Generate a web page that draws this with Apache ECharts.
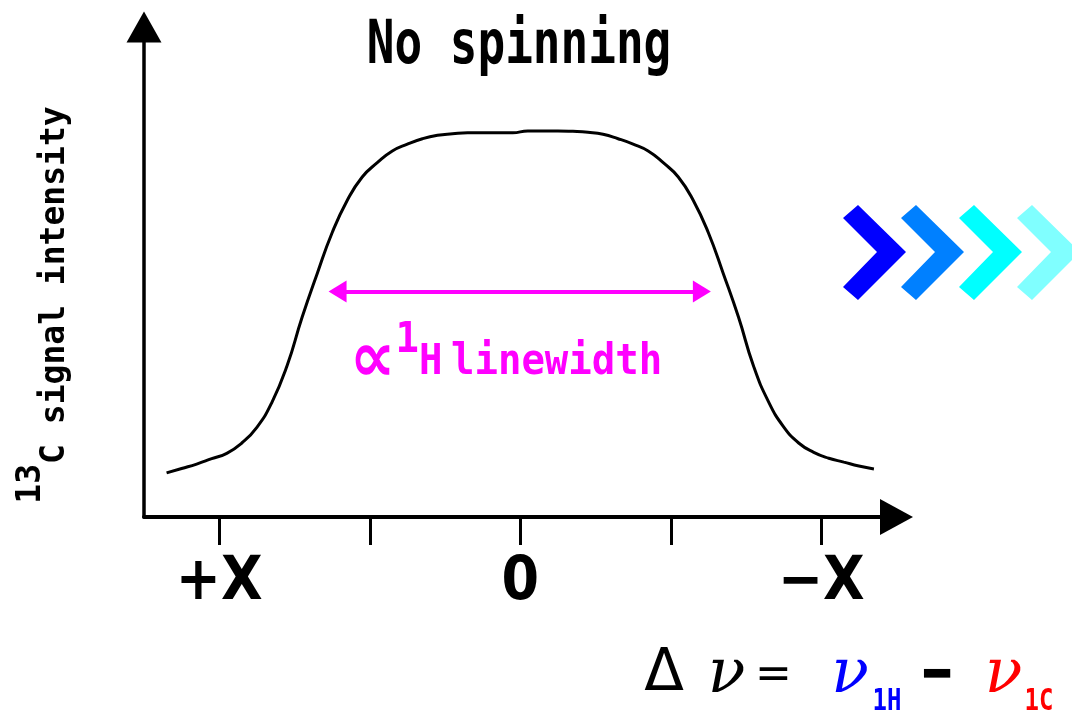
<!DOCTYPE html>
<html>
<head>
<meta charset="utf-8">
<script src="https://cdn.jsdelivr.net/npm/echarts@6/dist/echarts.min.js"></script>
<style>html,body{margin:0;padding:0;background:#fff}#c{width:1072px;height:717px}</style>
</head>
<body>
<div id="c"></div>
<script>
// Frequency offset Δν (tick units: ±2 = ±X) and 13C signal intensity (arbitrary units, 0–100)
const deltaNu = [-2.35,-2.25,-2.15,-2.05,-1.95,-1.85,-1.75,-1.65,-1.55,-1.45,-1.35,-1.25,-1.15,-1.05,-0.95,-0.85,-0.75,-0.65,-0.55,-0.45,-0.35,-0.25,-0.15,-0.05,
                 0.05,0.15,0.25,0.35,0.45,0.55,0.65,0.75,0.85,0.95,1.05,1.15,1.25,1.35,1.45,1.55,1.65,1.75,1.85,1.95,2.05,2.15,2.25,2.35];
const intensity = [9.0,9.9,10.8,11.9,13.0,15.1,18.3,23.4,30.8,40.7,49.6,58.0,64.6,69.4,72.3,74.7,76.1,77.2,77.9,78.2,78.4,78.4,78.4,78.4,
                   78.8,78.8,78.8,78.7,78.5,78.1,77.2,76.1,74.7,72.3,69.4,64.6,58.0,49.6,40.8,30.8,23.5,18.4,15.1,13.2,12.0,11.2,10.4,9.8];
const tickValues = [-2, -1, 0, 1, 2];
const tickLabels = ['+X', '', '0', '', '\u2212X'];
const labelValues = [-2, 0, 2];
const widthArrowEnds = [-1.214, 1.207];
const widthArrowLevel = 46;
const titleText = 'No spinning';
const yName = ['13', 'C signal intensity'];
const chevronColors = ['#0000ff', '#0080ff', '#00ffff', '#80ffff'];

const chart = echarts.init(document.getElementById('c'));
const mono = "'DejaVu Sans Mono', monospace";

const chevronBase = [[858,205],[906,252],[858,300],[843,287],[877,252],[843,218]];
const chevrons = chevronColors.map((c, k) => ({
  type: 'polygon', silent: true,
  shape: { points: chevronBase.map(p => [p[0] + k * 58, p[1]]) },
  style: { fill: c }
}));

function txt(text, x, y, font, fill, extra) {
  return Object.assign({
    type: 'text', x: x, y: y, silent: true,
    style: Object.assign({ text: text, fill: fill, align: 'center', verticalAlign: 'middle',
      textAlign: 'center', textVerticalAlign: 'middle' }, font)
  }, extra || {});
}

const formula = [
  txt('\u0394', 664, 675, { fontFamily: 'DejaVu Sans', fontSize: 58 }, '#000'),
  txt('\u03bd', 726.5, 676, { fontFamily: 'DejaVu Serif', fontStyle: 'italic', fontSize: 62 }, '#000'),
  txt('=', 773.5, 677, { fontFamily: 'DejaVu Sans', fontSize: 44 }, '#000'),
  txt('\u03bd', 850, 676, { fontFamily: 'DejaVu Serif', fontStyle: 'italic', fontSize: 62 }, '#0000ff'),
  txt('1H', 887, 702, { fontFamily: mono, fontWeight: 'bold', fontSize: 24 }, '#0000ff', { scaleY: 1.25 }),
  txt('\u2212', 937, 677, { fontFamily: 'DejaVu Sans', fontWeight: 'bold', fontSize: 42 }, '#000', { scaleY: 1.8 }),
  txt('\u03bd', 1003.5, 676, { fontFamily: 'DejaVu Serif', fontStyle: 'italic', fontSize: 62 }, '#ff0000'),
  txt('1C', 1039, 702, { fontFamily: mono, fontWeight: 'bold', fontSize: 24 }, '#ff0000', { scaleY: 1.25 })
];

const option = {
  animation: false,
  backgroundColor: '#fff',
  grid: { left: 144, right: 175.5, top: 27, bottom: 200, containLabel: false, outerBoundsMode: 'none' },
  xAxis: {
    type: 'value', min: -2.5, max: 2.5,
    axisLine: { onZero: false, symbol: ['none', 'triangle'], symbolSize: [36, 33],
      lineStyle: { color: '#000', width: 4 } },
    axisTick: { show: true, length: 28, customValues: tickValues, lineStyle: { color: '#000', width: 3 } },
    axisLabel: {
      show: true, customValues: labelValues, margin: 36,
      formatter: v => tickLabels[tickValues.indexOf(Math.round(v))] || '',
      color: '#000', fontSize: 60, fontWeight: 'bold',
      fontFamily: "'Liberation Sans Narrow', 'DejaVu Sans Condensed', 'DejaVu Sans', sans-serif"
    },
    splitLine: { show: false }
  },
  yAxis: {
    type: 'value', min: 0, max: 100,
    axisLine: { show: true, onZero: false, symbol: ['none', 'triangle'], symbolSize: [35, 31],
      lineStyle: { color: '#000', width: 3.5 } },
    axisTick: { show: false },
    axisLabel: { show: false },
    splitLine: { show: false },
    name: '{sup|' + yName[0] + '}{main|' + yName[1] + '}',
    nameLocation: 'middle', nameRotate: 90, nameGap: 48,
    nameTextStyle: {
      padding: [0, 66, 0, 0],
      rich: {
        sup: { fontFamily: mono, fontWeight: 'bold', fontSize: 33, color: '#000', padding: [0, 0, 48, 0] },
        main: { fontFamily: mono, fontWeight: 'bold', fontSize: 33, color: '#000' }
      }
    }
  },
  series: [{
    type: 'line',
    data: deltaNu.map((x, i) => [x, intensity[i]]),
    showSymbol: false, symbol: 'none',
    smooth: 0.5,
    lineStyle: { color: '#000', width: 3 },
    markLine: {
      silent: true, animation: false,
      symbol: ['triangle', 'triangle'], symbolSize: [22, 18],
      lineStyle: { color: '#ff00ff', width: 4, type: 'solid' },
      label: { show: false },
      emphasis: { disabled: true },
      data: [[{ coord: [widthArrowEnds[0], widthArrowLevel] }, { coord: [widthArrowEnds[1], widthArrowLevel] }]]
    }
  }],
  graphic: { elements: [
    txt(titleText, 519, 47, { fontFamily: mono, fontWeight: 'bold', fontSize: 46 }, '#000', { scaleY: 1.3 }),
    {
      type: 'text', x: 350, y: 363, scaleY: 1.1, silent: true,
      style: {
        text: '{p|\u221d}{s|1}{a|H}{g| }{a|linewidth}',
        fill: '#ff00ff', align: 'left', verticalAlign: 'middle', textAlign: 'left', textVerticalAlign: 'middle',
        fontFamily: mono, fontWeight: 'bold', fontSize: 39,
        rich: {
          p: { fontFamily: 'DejaVu Sans', fontWeight: 'bold', fontSize: 64, fill: '#ff00ff' },
          s: { fontFamily: mono, fontWeight: 'bold', fontSize: 39, padding: [0, 0, 40, 0], fill: '#ff00ff' },
          a: { fontFamily: mono, fontWeight: 'bold', fontSize: 39, fill: '#ff00ff' },
          g: { fontFamily: mono, fontSize: 14, fill: '#ff00ff' }
        }
      }
    }
  ].concat(chevrons, formula) }
};
chart.setOption(option);
</script>
</body>
</html>
